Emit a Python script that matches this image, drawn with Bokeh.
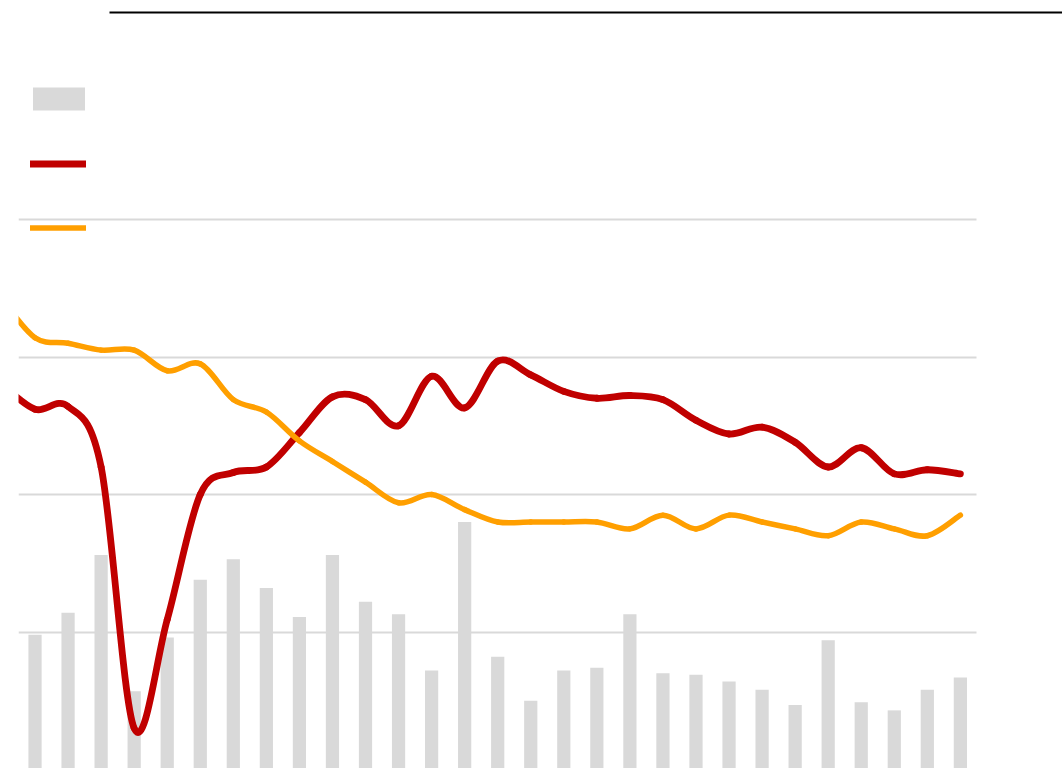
from bokeh.plotting import figure
from bokeh.models import (Range1d, ColumnDataSource, Grid, FixedTicker, Legend, LegendItem)
from bokeh.embed import file_html
from bokeh.resources import INLINE

# ---- data ----
bar_index = list(range(29))
bar_values = [0.98, 1.14, 1.56, 0.57, 0.96, 1.38, 1.53, 1.32, 1.11, 1.56, 1.22, 1.13, 0.72, 1.80, 0.82,
              0.50, 0.72, 0.74, 1.13, 0.70, 0.69, 0.64, 0.58, 0.47, 0.94, 0.49, 0.43, 0.58, 0.67]
line_index = list(range(-1, 29))
red_values = [2.80, 2.62, 2.64, 2.20, 0.30, 1.09, 2.00, 2.16, 2.20, 2.45, 2.71, 2.69, 2.50, 2.86, 2.63,
              2.97, 2.87, 2.75, 2.70, 2.72, 2.69, 2.54, 2.44, 2.49, 2.38, 2.20, 2.34, 2.15, 2.18, 2.15]
orange_values = [3.42, 3.14, 3.10, 3.05, 3.05, 2.90, 2.95, 2.69, 2.60, 2.39, 2.24, 2.09, 1.94, 2.00, 1.89,
                 1.80, 1.80, 1.80, 1.80, 1.75, 1.85, 1.75, 1.85, 1.80, 1.75, 1.70, 1.80, 1.75, 1.70, 1.85]
grid_values = [1, 2, 3, 4]

BAR_COLOR = "#D9D9D9"
RED = "#C00000"
ORANGE = "#FF9F00"

W, H = 1062, 768
p = figure(width=W, height=H, output_backend="svg", toolbar_location=None,
           x_axis_location="above", y_axis_location=None,
           x_range=Range1d(-0.5, 31.09), y_range=Range1d(0.0073, 5.5055),
           min_border_left=18, min_border_right=0, min_border_top=12, min_border_bottom=0)
p.outline_line_color = None
p.background_fill_color = "white"
p.border_fill_color = "white"
p.xgrid.visible = False
p.ygrid.visible = False

# top black rule via the x axis placed above
ax = p.xaxis[0]
ax.ticker = FixedTicker(ticks=[])
ax.bounds = (2.25, 31.09)
ax.axis_line_color = "black"
ax.axis_line_width = 2
ax.major_tick_line_color = None
ax.minor_tick_line_color = None
ax.major_label_text_font_size = "0px"
ax.major_tick_out = 0
ax.major_tick_in = 0
ax.minor_tick_out = 0

g = Grid(dimension=1, ticker=FixedTicker(ticks=grid_values), grid_line_color="#D9D9D9",
         grid_line_width=2)
g.cross_bounds = (-0.5, 28.5)
p.add_layout(g)

bars = p.vbar(x=bar_index, top=bar_values, bottom=0, width=0.4, fill_color=BAR_COLOR, line_color=None)


def bezier_source(xs, ys):
    n = len(xs)
    d = dict(x0=[], y0=[], x1=[], y1=[], cx0=[], cy0=[], cx1=[], cy1=[])
    for k in range(n - 1):
        xm, ym = (xs[k - 1], ys[k - 1]) if k > 0 else (xs[k], ys[k])
        xp, yp = (xs[k + 2], ys[k + 2]) if k + 2 < n else (xs[k + 1], ys[k + 1])
        d["x0"].append(xs[k]); d["y0"].append(ys[k])
        d["x1"].append(xs[k + 1]); d["y1"].append(ys[k + 1])
        d["cx0"].append(xs[k] + (xs[k + 1] - xm) / 6.0)
        d["cy0"].append(ys[k] + (ys[k + 1] - ym) / 6.0)
        d["cx1"].append(xs[k + 1] - (xp - xs[k]) / 6.0)
        d["cy1"].append(ys[k + 1] - (yp - ys[k]) / 6.0)
    return ColumnDataSource(d)


red_r = p.bezier(x0="x0", y0="y0", x1="x1", y1="y1", cx0="cx0", cy0="cy0", cx1="cx1", cy1="cy1",
                 source=bezier_source(line_index, red_values), line_color=RED, line_width=6.8,
                 line_cap="round", line_join="round")
orange_r = p.bezier(x0="x0", y0="y0", x1="x1", y1="y1", cx0="cx0", cy0="cy0", cx1="cx1", cy1="cy1",
                    source=bezier_source(line_index, orange_values), line_color=ORANGE, line_width=5.5,
                    line_cap="round", line_join="round")

legend_bars = Legend(items=[LegendItem(label=" ", renderers=[bars])],
                     location=(7.5, 655), glyph_width=65, glyph_height=29,
                     padding=0, margin=0, label_text_font_size="8px", label_height=8,
                     label_standoff=0, label_width=0,
                     border_line_color=None, background_fill_alpha=0)
legend_lines = Legend(items=[LegendItem(label=" ", renderers=[red_r]),
                             LegendItem(label=" ", renderers=[orange_r])],
                      location=(12, 529), glyph_width=56, glyph_height=23, spacing=41,
                      padding=0, margin=0, label_text_font_size="8px", label_height=8,
                      label_standoff=0, label_width=0,
                      border_line_color=None, background_fill_alpha=0)
p.add_layout(legend_bars)
p.add_layout(legend_lines)

open("out.html", "w").write(file_html(p, INLINE))
